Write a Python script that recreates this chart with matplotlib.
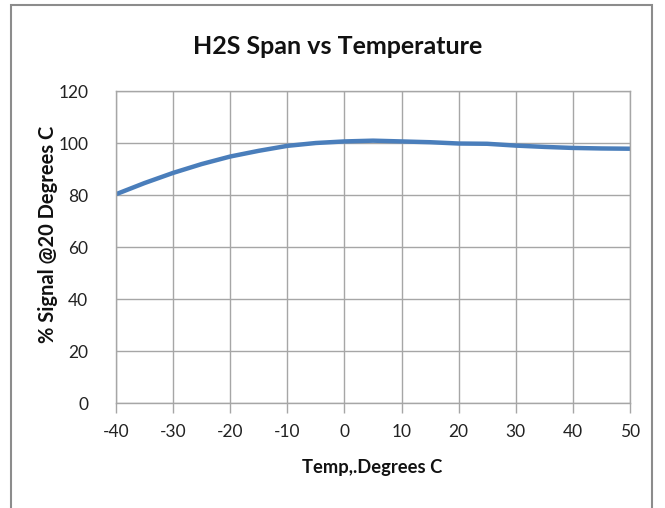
import matplotlib
matplotlib.use("Agg")
import matplotlib.pyplot as plt
from matplotlib.patches import Rectangle

temps = [-40, -35, -30, -25, -20, -15, -10, -5, 0, 5, 10, 15, 20, 25, 30, 35, 40, 45, 50]
signal = [80.3, 84.6, 88.5, 91.9, 94.8, 97.0, 98.9, 100.0, 100.6, 100.9, 100.6, 100.3,
          99.8, 99.7, 99.0, 98.5, 98.1, 97.9, 97.8]
xticks = [-40, -30, -20, -10, 0, 10, 20, 30, 40, 50]
yticks = [0, 20, 40, 60, 80, 100, 120]

plt.rcParams['font.family'] = ['Lato', 'DejaVu Sans']
plt.rcParams['axes.unicode_minus'] = False

W, H = 665, 508
fig = plt.figure(figsize=(W/100, H/100), dpi=100)
fig.patches.append(Rectangle((11/W, -0.01), (652-11)/W, (508-5)/H + 0.01, transform=fig.transFigure,
                             fill=False, edgecolor='#8C8C8C', linewidth=1.5))

ax = fig.add_axes([116/W, 1-403/H, (630-116)/W, (403-91)/H])
ax.plot(temps, signal, color='#4A7EBB', linewidth=3.2, solid_capstyle='butt')
ax.set_xlim(-40, 50)
ax.set_ylim(0, 120)
ax.set_xticks(xticks)
ax.set_yticks(yticks)
ax.grid(True, color='#A6A6A6', linewidth=1)
for s in ax.spines.values():
    s.set_color('#A6A6A6')
    s.set_linewidth(1)
ax.tick_params(axis='both', colors='#A6A6A6', labelcolor='#222222', labelsize=12.5, width=1)
ax.tick_params(axis='x', length=7, pad=8)
ax.tick_params(axis='y', length=0, pad=20)
ax.set_axisbelow(True)

fig.text(338/W, 1-46/H, 'H2S Span vs Temperature', ha='center', va='center', fontsize=18, fontweight='bold', color='#111111')
fig.text(372/W, 1-468/H, 'Temp,.Degrees C', ha='center', va='center', fontsize=13.2, fontweight='bold', color='#111111')
fig.text(48/W, 1-234/H, '% Signal @20 Degrees C', ha='center', va='center', rotation=90, fontsize=14.5, fontweight='bold', color='#111111')

fig.savefig('out.png', dpi=100)
